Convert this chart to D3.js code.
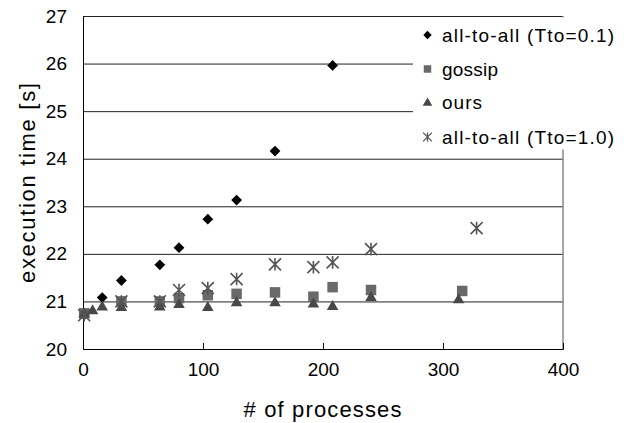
<!DOCTYPE html>
<html>
<head>
<meta charset="utf-8">
<script src="https://cdn.jsdelivr.net/npm/d3@7"></script>
<style>
  body { margin: 0; background: #fff; }
  text { font-family: "Liberation Sans", Arial, sans-serif; fill: #000; }
</style>
</head>
<body>
<div id="chart"></div>
<script>
// series data
var a01Procs = [1, 16, 32, 64, 80, 104, 128, 160, 208];
var a01Times = [20.72, 21.08, 21.44, 21.77, 22.13, 22.73, 23.13, 24.16, 25.96];

var gossipProcs = [1, 32, 64, 80, 104, 128, 160, 192, 208, 240, 316];
var gossipTimes = [20.75, 21.0, 21.0, 21.07, 21.13, 21.16, 21.19, 21.1, 21.3, 21.24, 21.22];

var oursProcs = [1, 8, 16, 32, 64, 80, 104, 128, 160, 192, 208, 240, 313];
var oursTimes = [20.73, 20.8, 20.88, 20.87, 20.88, 20.93, 20.87, 20.97, 20.97, 20.94, 20.89, 21.08, 21.03];

var a10Procs = [1, 32, 64, 80, 104, 128, 160, 192, 208, 240, 328];
var a10Times = [20.71, 21.0, 21.0, 21.24, 21.28, 21.47, 21.78, 21.72, 21.82, 22.1, 22.54];

var xTicks = [0, 100, 200, 300, 400];
var yTicks = [20, 21, 22, 23, 24, 25, 26, 27];
var legendLabels = ["all-to-all (Tto=0.1)", "gossip", "ours", "all-to-all (Tto=1.0)"];

// size of the svg
var W = 624, H = 423;
var margin = { top: 16, right: 61, bottom: 74, left: 83 },
    w = W - margin.left - margin.right,
    h = H - margin.top - margin.bottom;

var svg = d3.select('#chart')
    .append('svg')
    .attr('width', W)
    .attr('height', H);

var g = svg.append('g')
    .attr("transform", `translate(${margin.left},${margin.top})`);

var x = d3.scaleLinear().domain([0, 400]).range([0, w]);
var y = d3.scaleLinear().domain([20, 27]).range([h, 0]);

// gridlines
g.append('g').selectAll('line.grid')
    .data(yTicks.slice(1))
    .enter().append('line')
    .attr('x1', 0).attr('x2', w)
    .attr('y1', d => y(d) + 0.5).attr('y2', d => y(d) + 0.5)
    .attr('stroke', '#222').attr('stroke-width', 1);

// right border
g.append('line')
    .attr('x1', w).attr('x2', w)
    .attr('y1', 0).attr('y2', h)
    .attr('stroke', '#888').attr('stroke-width', 1.5);

// axes
var xAxis = d3.axisBottom(x).tickValues(xTicks).tickSize(-6).tickFormat(d3.format('d')).tickPadding(14);
var yAxis = d3.axisLeft(y).tickValues(yTicks).tickSize(0).tickFormat(d3.format('d')).tickPadding(16);

var gx = g.append('g')
    .attr("transform", `translate(0,${h})`)
    .call(xAxis);
gx.select('.domain').attr('stroke', '#000');
gx.selectAll('.tick line').attr('stroke', '#000');
gx.selectAll('text').attr('font-size', 19).attr('dy', '0.71em')
    .attr('font-family', '"Liberation Sans", Arial, sans-serif');

var gy = g.append('g').call(yAxis);
gy.select('.domain').attr('stroke', '#000');
gy.selectAll('text').attr('font-size', 19)
    .attr('font-family', '"Liberation Sans", Arial, sans-serif');

// markers
function diamondPath(r) {
    return `M0,${-r}L${r},0L0,${r}L${-r},0Z`;
}
function starPath(r) {
    return `M${-r},${-r}L${r},${r}M${-r},${r}L${r},${-r}M0,${-r * 1.05}L0,${r * 1.05}`;
}

function drawSeries(procs, times, draw) {
    var pts = procs.map((p, i) => ({ p: p, t: times[i] }));
    var sel = g.append('g').selectAll('path')
        .data(pts).enter().append('path')
        .attr('transform', d => `translate(${x(d.p)},${y(d.t)})`);
    draw(sel);
}

drawSeries(a01Procs, a01Times, s => s.attr('d', diamondPath(5.4)).attr('fill', '#000'));
drawSeries(gossipProcs, gossipTimes, s => s.attr('d', d3.symbol(d3.symbolSquare, 110)()).attr('fill', '#696969'));
drawSeries(oursProcs, oursTimes, s => s.attr('d', d3.symbol(d3.symbolTriangle, 58)()).attr('fill', '#484848'));
drawSeries(a10Procs, a10Times, s => s.attr('d', starPath(6)).attr('fill', 'none')
    .attr('stroke', '#555').attr('stroke-width', 1.6));

// legend
var lg = svg.append('g');
lg.append('rect')
    .attr('x', 413).attr('y', 17.5)
    .attr('width', W - 413).attr('height', 132)
    .attr('fill', '#fff');

var legendY = [35, 69, 102, 137];
var legendW = [172, 56, 40, 172];
var legendMarks = [
    sel => sel.attr('d', diamondPath(4.2)).attr('fill', '#000'),
    sel => sel.attr('d', d3.symbol(d3.symbolSquare, 56)()).attr('fill', '#696969'),
    sel => sel.attr('d', d3.symbol(d3.symbolTriangle, 40)()).attr('fill', '#484848').attr('transform', 'translate(0,1)'),
    sel => sel.attr('d', starPath(4.4)).attr('fill', 'none').attr('stroke', '#555').attr('stroke-width', 1.3)
];

legendLabels.forEach(function (lab, i) {
    var row = lg.append('g').attr('transform', `translate(427.5,${legendY[i]})`);
    legendMarks[i](row.append('path'));
    row.append('text')
        .attr('x', 14.5).attr('y', 0).attr('dy', '0.36em')
        .attr('font-size', 19)
        .attr('textLength', legendW[i]).attr('lengthAdjust', 'spacing')
        .text(lab);
});

// axis titles
svg.append('text')
    .attr('x', 322.5).attr('y', 416.5)
    .attr('text-anchor', 'middle')
    .attr('font-size', 22)
    .attr('textLength', 158).attr('lengthAdjust', 'spacing')
    .text('# of processes');

svg.append('text')
    .attr('transform', 'translate(35,183) rotate(-90)')
    .attr('text-anchor', 'middle')
    .attr('font-size', 22)
    .attr('textLength', 200).attr('lengthAdjust', 'spacing')
    .text('execution time [s]');
</script>
</body>
</html>
